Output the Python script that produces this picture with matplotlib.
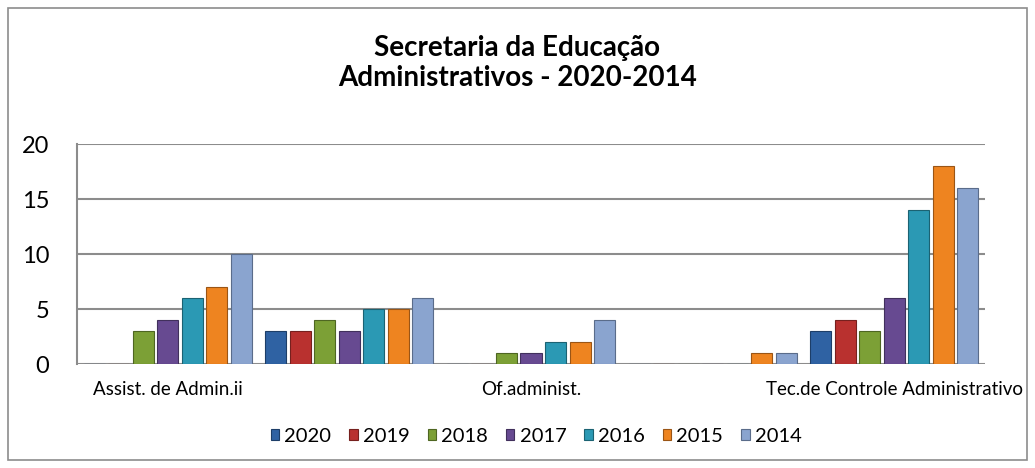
import matplotlib
matplotlib.use("Agg")
import matplotlib.pyplot as plt
import numpy as np

categories = ["Assist. de Admin.ii", "", "Of.administ.", "", "Tec.de Controle Administrativo"]
years = ["2020", "2019", "2018", "2017", "2016", "2015", "2014"]
v2020 = [0, 3, 0, 0, 3]
v2019 = [0, 3, 0, 0, 4]
v2018 = [3, 4, 1, 0, 3]
v2017 = [4, 3, 1, 0, 6]
v2016 = [6, 5, 2, 0, 14]
v2015 = [7, 5, 2, 1, 18]
v2014 = [10, 6, 4, 1, 16]
series = [v2020, v2019, v2018, v2017, v2016, v2015, v2014]

colors = ["#2f62a3", "#b9312f", "#7ca036", "#674a91", "#2b99b4", "#ee8420", "#8aa4cf"]
edges = ["#1d3e68", "#76201e", "#4e6622", "#41305c", "#1b6272", "#9a5515", "#5a6c8a"]

plt.rcParams["font.family"] = ["Lato", "DejaVu Sans"]

fig = plt.figure(figsize=(10.35, 4.68), dpi=100)
ax = fig.add_axes([0.0744, 0.2222, 0.8773, 0.4701])

x = np.arange(len(categories))
step = 0.135
width = 0.116
for i, (yr, vals) in enumerate(zip(years, series)):
    pos = x + (i - 3) * step
    ax.bar(pos, vals, width=width, color=colors[i], edgecolor=edges[i],
           linewidth=0.8, label=yr, zorder=3)

ax.set_xlim(-0.5, 4.5)
ax.set_ylim(0, 20)
ax.set_yticks([0, 5, 10, 15, 20])
ax.grid(axis="y", color="#8c8c8c", linewidth=1.5, zorder=0)
ax.set_xticks(x)
ax.set_xticklabels(categories, fontsize=13.5)
ax.tick_params(axis="x", length=0, pad=12)
ax.tick_params(axis="y", length=0, pad=20, labelsize=17)
for s in ["top", "right", "bottom"]:
    ax.spines[s].set_visible(False)
ax.spines["left"].set_color("#8c8c8c")
ax.spines["left"].set_linewidth(1.5)

fig.text(0.5, 0.866, "Secretaria da Educação\nAdministrativos - 2020-2014",
         ha="center", va="center", fontsize=20, fontweight="bold",
         linespacing=1.2)

leg = fig.legend(loc="center", bbox_to_anchor=(0.518, 0.068), ncol=7,
                 frameon=False, fontsize=14.5, handlelength=0.42,
                 handleheight=0.42, handletextpad=0.25, columnspacing=0.9)

border = plt.Rectangle((0.008, 0.017), 0.984, 0.966, transform=fig.transFigure,
                       fill=False, edgecolor="#8c8c8c", linewidth=1.2)
fig.patches.append(border)

fig.savefig("out.png", dpi=100)
